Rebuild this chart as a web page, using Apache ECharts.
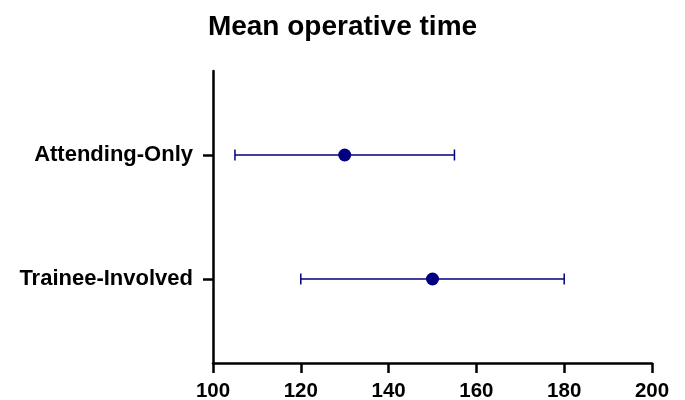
<!DOCTYPE html>
<html>
<head>
<meta charset="utf-8">
<script src="https://cdn.jsdelivr.net/npm/echarts@6/dist/echarts.min.js"></script>
<style>html,body{margin:0;padding:0;background:#fff}#c{width:685px;height:400px}</style>
</head>
<body>
<div id="c"></div>
<script>
const title = 'Mean operative time';
const categories = ['Trainee-Involved', 'Attending-Only'];
const means = [150, 130];
const lower = [120, 105];
const upper = [180, 155];
const xMin = 100, xMax = 200, xStep = 20;

const FONT = '"Liberation Sans", Arial, sans-serif';
const NAVY = '#000080';

const chart = echarts.init(document.getElementById('c'), null, {renderer: 'canvas'});
chart.setOption({
  animation: false,
  backgroundColor: '#fff',
  title: {
    text: title, left: 'center', top: 8,
    textStyle: {fontFamily: FONT, fontWeight: 'bold', fontSize: 28, color: '#000'}
  },
  grid: {left: 213, right: 33, top: 71, bottom: 37, outerBoundsMode: 'none', containLabel: false},
  xAxis: {
    type: 'value', min: xMin, max: xMax, interval: xStep,
    splitLine: {show: false},
    axisLine: {show: true, onZero: false, lineStyle: {color: '#000', width: 2.5}},
    axisTick: {show: true, length: 10, lineStyle: {color: '#000', width: 2.5}},
    axisLabel: {margin: 18, color: '#000', fontFamily: FONT, fontWeight: 'bold', fontSize: 20.5}
  },
  yAxis: {
    type: 'value', min: -0.677, max: 1.677,
    splitLine: {show: false},
    axisLine: {show: true, onZero: false, lineStyle: {color: '#000', width: 2.5}},
    axisTick: {show: true, length: 10, customValues: categories.map((c, i) => i), lineStyle: {color: '#000', width: 2.5}},
    axisLabel: {
      margin: 20, color: '#000', fontFamily: FONT, fontWeight: 'bold', fontSize: 22,
      customValues: categories.map((c, i) => i),
      formatter: v => categories[Math.round(v)]
    }
  },
  series: [
    {
      type: 'custom',
      data: categories.map((c, i) => [lower[i], upper[i], i]),
      encode: {x: [0, 1], y: 2},
      renderItem: function (params, api) {
        const y = api.value(2);
        const p0 = api.coord([api.value(0), y]);
        const p1 = api.coord([api.value(1), y]);
        const h = 5.5;
        const style = {stroke: NAVY, lineWidth: 1.5};
        return {
          type: 'group',
          children: [
            {type: 'line', shape: {x1: p0[0], y1: p0[1], x2: p1[0], y2: p1[1]}, style: style},
            {type: 'line', shape: {x1: p0[0], y1: p0[1] - h, x2: p0[0], y2: p0[1] + h}, style: style},
            {type: 'line', shape: {x1: p1[0], y1: p1[1] - h, x2: p1[0], y2: p1[1] + h}, style: style}
          ]
        };
      },
      z: 2
    },
    {
      type: 'scatter',
      data: categories.map((c, i) => [means[i], i]),
      symbol: 'circle', symbolSize: 13,
      itemStyle: {color: NAVY, opacity: 1},
      z: 3
    }
  ]
});
</script>
</body>
</html>
